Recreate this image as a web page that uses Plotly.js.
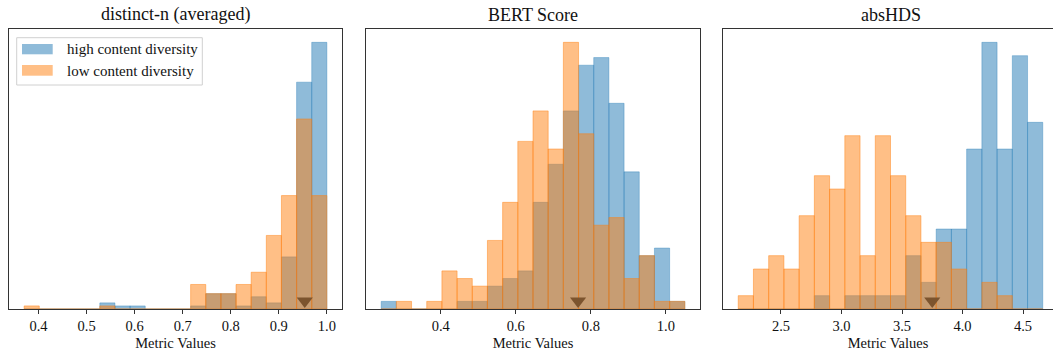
<!DOCTYPE html>
<html><head><meta charset="utf-8">
<script src="https://cdn.plot.ly/plotly-3.0.1.min.js"></script>
<style>html,body{margin:0;padding:0;background:#fff}#chart{width:1053px;height:352px}</style>
</head><body><div id="chart"></div>
<script>
// ---------------- data ----------------
const metricNames = ['distinct-n (averaged)', 'BERT Score', 'absHDS'];
const seriesNames = ['high content diversity', 'low content diversity'];
const axisTitle = 'Metric Values';
const binCount = 20;

// shared histogram bin ranges (min, max of each metric)
const distinctBinRange = [0.37, 1.0];
const bertBinRange = [0.2411, 1.0506];
const absHDSBinRange = [2.147, 4.663];

// counts per bin (20 bins)
const distinctHigh = [0,0,0,0,0,2,1,1,0,0,0,1,5,5,1,4,2,17,74,87];
const distinctLow  = [1,0,0,0,0,1,0,0,0,0,0,8,5,5,8,12,24,37,62,37];
const bertHigh = [1,0,0,0,0,1,1,3,4,5,14,19,26,32,33,27,18,7,8,1];
const bertLow  = [0,1,0,1,5,4,3,9,14,22,26,21,35,23,11,12,4,7,1,1];
const absHDSHigh = [0,0,0,0,0,1,0,1,1,1,1,4,2,6,6,12,20,12,19,14];
const absHDSLow  = [1,3,4,3,7,10,9,13,4,13,10,7,5,5,3,0,2,1,0,0];

// triangle markers (threshold values)
const markerValues = [0.954, 0.766, 3.75];

// ticks
const distinctTicks = [0.4,0.5,0.6,0.7,0.8,0.9,1.0];
const distinctTickText = ['0.4','0.5','0.6','0.7','0.8','0.9','1.0'];
const bertTicks = [0.4,0.6,0.8,1.0];
const bertTickText = ['0.4','0.6','0.8','1.0'];
const absHDSTicks = [2.5,3.0,3.5,4.0,4.5];
const absHDSTickText = ['2.5','3.0','3.5','4.0','4.5'];

// ---------------- layout / styling ----------------
const W = 1053, H = 352, TOP = 29, BOTTOM = 309;
const PH = BOTTOM - TOP;
const panelPx = [[9, 342], [366, 700], [723, 1058]];
const FONT = 'Liberation Serif, Times New Roman, serif';
const TXT = '#111';
const blueFill = 'rgba(31,119,180,0.5)';
const orangeFill = 'rgba(255,127,14,0.5)';
const blueEdge = 'rgba(31,119,180,0.35)';
const orangeEdge = 'rgba(255,127,14,0.45)';
const markerColor = 'rgb(124,84,46)';

const panels = [
  {name: metricNames[0], bins: distinctBinRange, high: distinctHigh, low: distinctLow, ticks: distinctTicks, tickText: distinctTickText},
  {name: metricNames[1], bins: bertBinRange, high: bertHigh, low: bertLow, ticks: bertTicks, tickText: bertTickText},
  {name: metricNames[2], bins: absHDSBinRange, high: absHDSHigh, low: absHDSLow, ticks: absHDSTicks, tickText: absHDSTickText}
];

const traces = [];
const layout = {
  width: W, height: H,
  margin: {l: 0, r: 0, t: TOP, b: H - BOTTOM},
  paper_bgcolor: '#fff', plot_bgcolor: '#fff',
  barmode: 'overlay', bargap: 0,
  showlegend: false,
  font: {family: FONT, color: TXT},
  annotations: [], shapes: []
};

panels.forEach((p, i) => {
  const sfx = i === 0 ? '' : String(i + 1);
  const xa = 'x' + sfx, ya = 'y' + sfx;
  const lo = p.bins[0], hi = p.bins[1];
  const bw = (hi - lo) / binCount;
  const centers = p.high.map((_, k) => lo + bw * (k + 0.5));
  const span = hi - lo, m = 0.05 * span;
  const fullLo = lo - m, fullHi = hi + m;
  const [a, b] = panelPx[i];
  const bc = Math.min(b, W);
  const rEnd = fullLo + (bc - a) / (b - a) * (fullHi - fullLo);
  const yTop = 1.05 * Math.max(Math.max(...p.high), Math.max(...p.low));

  traces.push({type: 'bar', x: centers, y: p.high, width: bw, xaxis: xa, yaxis: ya,
    name: seriesNames[0], marker: {color: blueFill, line: {width: 1, color: blueEdge}}, hoverinfo: 'skip'});
  traces.push({type: 'bar', x: centers, y: p.low, width: bw, xaxis: xa, yaxis: ya,
    name: seriesNames[1], marker: {color: orangeFill, line: {width: 1, color: orangeEdge}}, hoverinfo: 'skip'});
  traces.push({type: 'scatter', mode: 'markers', x: [markerValues[i]], y: [yTop * 8 / PH], xaxis: xa, yaxis: ya,
    marker: {symbol: 'triangle-down', size: 14, color: markerColor, line: {width: 0}}, hoverinfo: 'skip', cliponaxis: false});

  layout['xaxis' + sfx] = {
    domain: [a / W, bc / W], range: [fullLo, rEnd], anchor: ya,
    showline: true, mirror: true, linecolor: '#333', linewidth: 1.2,
    ticks: 'outside', ticklen: 3.5, tickwidth: 1, tickcolor: '#333',
    tickvals: p.ticks, ticktext: p.tickText,
    tickfont: {family: FONT, size: 14.5, color: TXT},
    showgrid: false, zeroline: false, fixedrange: true,
    title: {text: axisTitle, font: {family: FONT, size: 14.5, color: TXT}, standoff: 4}
  };
  layout['yaxis' + sfx] = {
    domain: [0, 1], range: [0, yTop], anchor: xa,
    showline: true, mirror: i < 2, linecolor: '#333', linewidth: 1.2,
    ticks: '', showticklabels: false, showgrid: false, zeroline: false, fixedrange: true
  };
  layout.annotations.push({
    text: p.name, xref: 'paper', yref: 'paper',
    x: ((a + b) / 2) / W, y: (BOTTOM - 15) / PH, xanchor: 'center', yanchor: 'middle',
    showarrow: false, font: {family: FONT, size: 18, color: TXT}
  });
});

// legend (drawn in panel 1)
const px2x = v => v / W;
const px2y = v => (BOTTOM - v) / PH;
layout.shapes.push({type: 'rect', xref: 'paper', yref: 'paper', layer: 'above',
  x0: px2x(16.7), x1: px2x(202.3), y0: px2y(85), y1: px2y(37.7),
  fillcolor: 'rgba(255,255,255,0.8)', line: {color: '#d0d0d0', width: 1}});
const legendRows = [{fill: blueFill, y0: 44, y1: 54.3, ty: 49.5}, {fill: orangeFill, y0: 65, y1: 75.7, ty: 70.5}];
legendRows.forEach((r, k) => {
  layout.shapes.push({type: 'rect', xref: 'paper', yref: 'paper', layer: 'above',
    x0: px2x(22), x1: px2x(52.7), y0: px2y(r.y1), y1: px2y(r.y0),
    fillcolor: r.fill, line: {width: 0}});
  layout.annotations.push({text: seriesNames[k], xref: 'paper', yref: 'paper',
    x: px2x(65), y: px2y(r.ty), xanchor: 'left', yanchor: 'middle', showarrow: false,
    font: {family: FONT, size: 15, color: TXT}});
});

Plotly.newPlot('chart', traces, layout, {staticPlot: true, displayModeBar: false});
</script>
</body></html>
